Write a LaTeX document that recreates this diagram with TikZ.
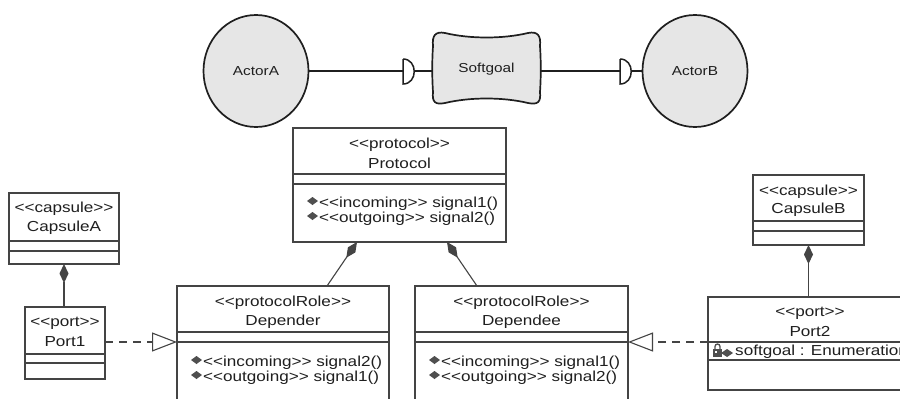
\documentclass[tikz,border=0pt]{standalone}
\usepackage{fontspec}
\setmainfont{Liberation Sans}[Ligatures=TeXOff, FakeStretch=1.18]
\usetikzlibrary{arrows.meta,calc,shapes.geometric}

\definecolor{ink}{HTML}{1F1F1F}
\definecolor{edge}{HTML}{444444}
\definecolor{actorfill}{HTML}{E6E6E6}
\definecolor{iconfill}{HTML}{4F4F4F}

\tikzset{
  clsbox/.style={draw=edge, line width=1.1pt, fill=white, inner sep=0pt, outer sep=0pt},
  clsline/.style={draw=edge, line width=1.1pt},
  lbl/.style={text=ink, font=\fontsize{14.5}{16}\selectfont, inner sep=0pt},
  oplbl/.style={lbl, anchor=west},
  actor/.style={ellipse, draw=ink, line width=1.7pt, fill=actorfill,
    minimum width=105pt, minimum height=112pt, inner sep=0pt,
    font=\fontsize{13}{15}\selectfont, text=ink},
  goalshape/.style={draw=ink, line width=1.7pt, fill=actorfill},
  deplink/.style={draw=ink, line width=1.5pt},
  comp/.style={draw=edge, line width=1.1pt, {Diamond[length=19pt,width=9pt]}-{}},
  realize/.style={draw=edge, line width=1.1pt, dash pattern=on 8pt off 6pt,
    -{Triangle[open, length=25pt, width=19pt, fill=white]}},
}

% class box: name, left x, top y, width, height, first separator, second separator
\newcommand\umlbox[7]{%
  \node[clsbox, minimum width=#4pt, minimum height=#5pt, anchor=north west] (#1) at (#2,#3) {};
  \draw[clsline] ($(#1.north west)+(0,#6)$) -- ($(#1.north east)+(0,#6)$);
  \draw[clsline] ($(#1.north west)+(0,#7)$) -- ($(#1.north east)+(0,#7)$);
}
% stereotype and name lines of a class box
\newcommand\umlhead[5]{%
  \node[lbl] at ($(#1.north)+(0,#2)$) {#3};
  \node[lbl] at ($(#1.north)+(0,#4)$) {#5};
}
% operation line with its diamond icon
\newcommand\umlop[3]{%
  \fill[iconfill] ($(#1.north west)+(14,#2-3)$) -- ++(5.5,-4) -- ++(5.5,4) -- ++(-5.5,4) -- cycle;
  \node[oplbl] at ($(#1.north west)+(26,#2)$) {#3};
}

\begin{document}
\begin{tikzpicture}[x=1pt, y=-1pt]
\useasboundingbox (0,0) rectangle (900,399);
\fill[white] (0,0) rectangle (900,399);
\clip (0,0) rectangle (900,399);

% ---- actors and softgoal dependency ----
\node[actor] (actorA) at (256,71) {ActorA};
\node[actor] (actorB) at (695,71) {ActorB};

\draw[goalshape]
  (445,33) .. controls (470,39) and (503,39) .. (528,33)
  .. controls (538,31) and (541,36) .. (540,46)
  .. controls (541,60) and (541,78) .. (540,92)
  .. controls (541,102) and (538,105) .. (528,103)
  .. controls (503,97) and (470,97) .. (445,103)
  .. controls (435,105) and (432,102) .. (433,92)
  .. controls (432,78) and (432,60) .. (433,46)
  .. controls (432,36) and (435,31) .. (445,33) -- cycle;
\node[text=ink, font=\fontsize{13}{15}\selectfont, inner sep=0pt] (softgoal) at (486.5,69) {Softgoal};
\coordinate (softW) at (432,71);
\coordinate (softE) at (541,71);

\coordinate (d1) at (403,71);
\coordinate (d1r) at (414,71);
\coordinate (d2) at (620,71);
\coordinate (d2r) at (631,71);
\foreach \d in {d1,d2}{
  \draw[deplink] ($(\d)+(0,-12)$) -- ($(\d)+(0,13)$)
    .. controls ($(\d)+(15,13)$) and ($(\d)+(15,-12)$) .. ($(\d)+(0,-12)$);
}
\draw[deplink] (actorA) -- (d1);
\draw[deplink] (d1r) -- (softW);
\draw[deplink] (softE) -- (d2);
\draw[deplink] (d2r) -- (actorB);

% ---- class boxes ----
\umlbox{protocol}{293}{128}{213}{114}{46}{56}
\umlhead{protocol}{17}{<<protocol>>}{35}{Protocol}
\umlop{protocol}{76}{<<incoming>> signal1()}
\umlop{protocol}{91}{<<outgoing>> signal2()}

\umlbox{depender}{177}{286}{212}{140}{46}{56}
\umlhead{depender}{17}{<<protocolRole>>}{36}{Depender}
\umlop{depender}{77}{<<incoming>> signal2()}
\umlop{depender}{92}{<<outgoing>> signal1()}

\umlbox{dependee}{415}{286}{213}{140}{46}{56}
\umlhead{dependee}{17}{<<protocolRole>>}{36}{Dependee}
\umlop{dependee}{77}{<<incoming>> signal1()}
\umlop{dependee}{92}{<<outgoing>> signal2()}

\umlbox{capsuleA}{9}{193}{110}{71}{48}{58}
\umlhead{capsuleA}{16}{<<capsule>>}{35}{CapsuleA}

\umlbox{port1}{25}{307}{80}{72}{47}{56}
\umlhead{port1}{16}{<<port>>}{35}{Port1}

\umlbox{capsuleB}{753}{175}{111}{70}{46}{56}
\umlhead{capsuleB}{17}{<<capsule>>}{35}{CapsuleB}

\umlbox{port2}{708}{297}{204}{93}{45}{63}
\umlhead{port2}{16}{<<port>>}{35}{Port2}
% attribute with its lock icon
\fill[iconfill] (713,349) rectangle (722,357);
\draw[iconfill, line width=1.3pt] (715,349) -- (715,346.5) arc[start angle=180, end angle=360, radius=2.5] -- (720,349);
\fill[white] (715,351) rectangle (717,353);
\fill[iconfill] (721,353) -- (727,349) -- (733,353) -- (727,357) -- cycle;
\node[oplbl] at ($(port2.north west)+(27,55)$) {softgoal : Enumeration};

% ---- compositions ----
\draw[comp] ($(protocol.south west)+(64,0)$) -- ($(depender.north west)+(150,0)$);
\draw[comp] ($(protocol.south west)+(154,0)$) -- ($(dependee.north west)+(62,0)$);
\draw[comp] (capsuleA.south) -- (capsuleA.south |- port1.north);
\draw[comp] (capsuleB.south) -- (capsuleB.south |- port2.north);

% ---- realizations ----
\draw[realize] ($(port1.north east)+(0,35)$) -- ($(depender.north west)+(0,56)$);
\draw[realize] ($(port2.north west)+(0,45)$) -- ($(dependee.north east)+(0,56)$);
\end{tikzpicture}
\end{document}
